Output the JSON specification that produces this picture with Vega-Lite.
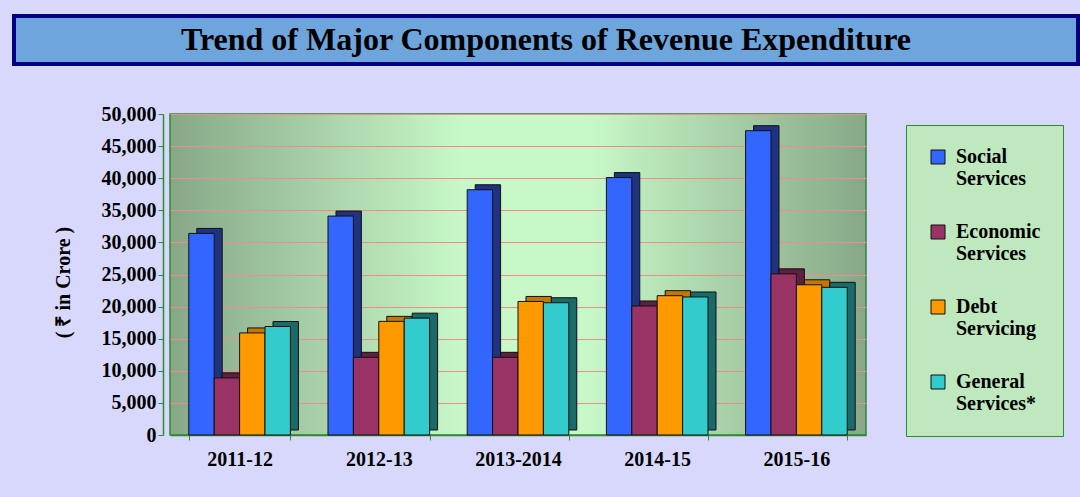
{
  "$schema": "https://vega.github.io/schema/vega-lite/v6.json",
  "background": "#d8d8fc",
  "padding": {"left": 12, "top": 14, "right": 0, "bottom": 31},
  "config": {"font": "Liberation Serif", "view": {"stroke": null}},
  "spacing": 37,
  "vconcat": [
    {
      "width": 1064,
      "height": 48,
      "data": {"values": [{"title": "Trend of Major Components of Revenue Expenditure"}]},
      "mark": {"type": "text", "font": "Liberation Serif", "fontSize": 32, "fontWeight": "bold", "color": "#000000", "baseline": "middle", "align": "center"},
      "encoding": {"text": {"field": "title", "type": "nominal"}},
      "view": {"fill": "#6fa5dd", "stroke": "#000080", "strokeWidth": 4}
    },
    {
      "spacing": 10,
      "hconcat": [
        {
          "width": 28,
          "height": 10,
          "data": {"values": []},
          "mark": "point",
          "view": {"stroke": null, "fill": null}
        },
        {
          "width": 696,
          "height": 321,
          "data": {"values": [
            {"year": "2011-12", "series": "Social Services", "value": 31400},
            {"year": "2011-12", "series": "Economic Services", "value": 8900},
            {"year": "2011-12", "series": "Debt Servicing", "value": 15900},
            {"year": "2011-12", "series": "General Services*", "value": 16900},
            {"year": "2012-13", "series": "Social Services", "value": 34100},
            {"year": "2012-13", "series": "Economic Services", "value": 12100},
            {"year": "2012-13", "series": "Debt Servicing", "value": 17700},
            {"year": "2012-13", "series": "General Services*", "value": 18200},
            {"year": "2013-2014", "series": "Social Services", "value": 38200},
            {"year": "2013-2014", "series": "Economic Services", "value": 12100},
            {"year": "2013-2014", "series": "Debt Servicing", "value": 20800},
            {"year": "2013-2014", "series": "General Services*", "value": 20600},
            {"year": "2014-15", "series": "Social Services", "value": 40100},
            {"year": "2014-15", "series": "Economic Services", "value": 20100},
            {"year": "2014-15", "series": "Debt Servicing", "value": 21700},
            {"year": "2014-15", "series": "General Services*", "value": 21500},
            {"year": "2015-16", "series": "Social Services", "value": 47400},
            {"year": "2015-16", "series": "Economic Services", "value": 25100},
            {"year": "2015-16", "series": "Debt Servicing", "value": 23400},
            {"year": "2015-16", "series": "General Services*", "value": 23000}
          ]},
          "view": {
            "fill": {"gradient": "linear", "x1": 0, "y1": 0, "x2": 1, "y2": 0, "stops": [
              {"offset": 0, "color": "#87a887"},
              {"offset": 0.42, "color": "#c8f8c8"},
              {"offset": 0.6, "color": "#c8f8c8"},
              {"offset": 1, "color": "#87a887"}
            ]},
            "stroke": "#2e8b2e",
            "strokeWidth": 1.5
          },
          "encoding": {
            "x": {
              "field": "year", "type": "nominal", "sort": null,
              "scale": {"paddingInner": 0.27, "paddingOuter": 0.135},
              "axis": {
                "title": null, "labelAngle": 0, "tickBand": "extent",
                "labelFont": "Liberation Serif", "labelFontSize": 20, "labelFontWeight": "bold", "labelColor": "#000000",
                "labelPadding": 9, "tickSize": 5,
                "domainColor": "#2e8b2e", "tickColor": "#2e8b2e", "domainWidth": 1.5
              }
            },
            "y": {
              "field": "value", "type": "quantitative",
              "scale": {"domain": [0, 50000], "nice": false},
              "axis": {
                "values": [0, 5000, 10000, 15000, 20000, 25000, 30000, 35000, 40000, 45000, 50000],
                "format": ",d",
                "title": "( ₹  in  Crore )",
                "titleX": -100, "titleY": 168, "titleAngle": 270, "titleBaseline": "middle", "titleAlign": "center",
                "titleFont": "Liberation Serif", "titleFontSize": 20, "titleFontWeight": "bold", "titleColor": "#000000",
                "labelFont": "Liberation Serif", "labelFontSize": 20, "labelFontWeight": "bold", "labelColor": "#000000",
                "labelPadding": 2, "tickSize": 5, "offset": 7,
                "domainColor": "#2e8b2e", "tickColor": "#2e8b2e", "domainWidth": 1.5,
                "grid": true, "gridColor": "#f08c8c", "gridWidth": 1
              }
            }
          },
          "layer": [
            {
              "mark": {"type": "bar", "yOffset": -5, "stroke": "#111111", "strokeWidth": 1},
              "encoding": {
                "xOffset": {"field": "series", "type": "nominal",
                  "sort": ["Social Services", "Economic Services", "Debt Servicing", "General Services*"],
                  "scale": {"range": [8, 109.6], "paddingInner": 0, "paddingOuter": 0}},
                "color": {"field": "series", "type": "nominal",
                  "sort": ["Social Services", "Economic Services", "Debt Servicing", "General Services*"],
                  "scale": {"range": ["#1f3380", "#5e1f40", "#c47800", "#1a6a6a"]},
                  "legend": null}
              }
            },
            {
              "mark": {"type": "bar", "stroke": "#111111", "strokeWidth": 1},
              "encoding": {
                "xOffset": {"field": "series", "type": "nominal",
                  "sort": ["Social Services", "Economic Services", "Debt Servicing", "General Services*"],
                  "scale": {"paddingInner": 0, "paddingOuter": 0}},
                "color": {"field": "series", "type": "nominal",
                  "sort": ["Social Services", "Economic Services", "Debt Servicing", "General Services*"],
                  "scale": {"range": ["#3366ff", "#993366", "#ff9900", "#33cccc"]},
                  "legend": {
                    "title": null, "orient": "none", "legendX": 736, "legendY": 11, "direction": "vertical",
                    "fillColor": "#bfe8bf", "strokeColor": "#2e8b2e", "padding": 22,
                    "symbolType": "square", "symbolSize": 196, "symbolStrokeColor": "#111111", "symbolStrokeWidth": 1,
                    "labelFont": "Liberation Serif", "labelFontSize": 20, "labelFontWeight": "bold", "labelColor": "#000000",
                    "labelLineHeight": 21, "labelExpr": "split(datum.label, ' ')", "labelLimit": 300,
                    "rowPadding": 33, "labelOffset": 8
                  }
                }
              }
            }
          ],
          "resolve": {"scale": {"color": "independent", "xOffset": "independent"}}
        }
      ]
    }
  ]
}
